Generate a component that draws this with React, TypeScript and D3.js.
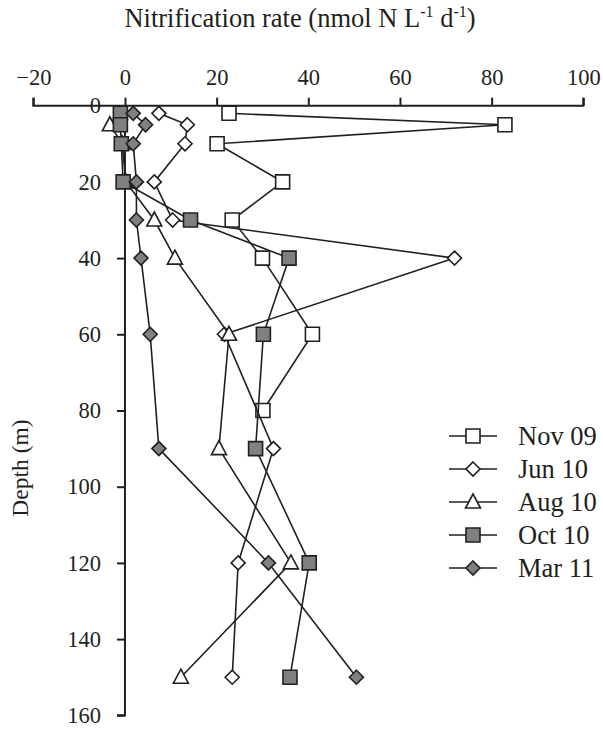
import { useEffect, useRef } from 'react';
import * as d3 from 'd3';

const seriesNames = ['Nov 09', 'Jun 10', 'Aug 10', 'Oct 10', 'Mar 11'];

const nov09Depth = [2, 5, 10, 20, 30, 40, 60, 80];
const nov09Rate = [22.7, 82.9, 20.1, 34.4, 23.4, 30.0, 40.9, 30.1];

const jun10Depth = [2, 5, 10, 20, 30, 40, 60, 90, 120, 150];
const jun10Rate = [7.4, 13.6, 13.1, 6.4, 10.4, 71.9, 21.7, 32.4, 24.7, 23.4];

const aug10Depth = [5, 10, 20, 30, 40, 60, 90, 120, 150];
const aug10Rate = [-3.3, -0.6, 0.2, 6.4, 10.9, 22.7, 20.5, 36.2, 12.2];

const oct10Depth = [2, 5, 10, 20, 30, 40, 60, 90, 120, 150];
const oct10Rate = [-1.0, -1.0, -0.8, -0.4, 14.3, 35.8, 30.2, 28.5, 40.2, 36.0];

const mar11Depth = [2, 5, 10, 20, 30, 40, 60, 90, 120, 150];
const mar11Rate = [1.8, 4.5, 1.8, 2.5, 2.5, 3.5, 5.5, 7.4, 31.3, 50.5];

const xTicks = [-20, 0, 20, 40, 60, 80, 100];
const yTicks = [0, 20, 40, 60, 80, 100, 120, 140, 160];

type Marker = 'square' | 'diamond' | 'triangle';
const markers: Marker[] = ['square', 'diamond', 'triangle', 'square', 'diamond'];
const fills = ['#ffffff', '#ffffff', '#ffffff', '#808080', '#808080'];

const INK = '#231f20';
const FONT = '"Liberation Serif", "Times New Roman", serif';

function markerPath(m: Marker) {
  if (m === 'square') return 'M-7,-7H7V7H-7Z';
  if (m === 'diamond') return 'M0,-7L7,0L0,7L-7,0Z';
  return 'M0,-8L7.5,6H-7.5Z';
}

export default function App() {
  const svgRef = useRef<SVGSVGElement>(null);

  useEffect(() => {
    if (!svgRef.current) return;
    const width = 603, height = 729;
    const svg = d3.select(svgRef.current);
    svg.selectAll('*').remove();
    svg.attr('width', width).attr('height', height);

    const x = d3.scaleLinear().domain([-20, 100]).range([33.3, 583.3]);
    const y = d3.scaleLinear().domain([0, 160]).range([105.7, 715.3]);

    const series = [
      { d: nov09Depth, v: nov09Rate },
      { d: jun10Depth, v: jun10Rate },
      { d: aug10Depth, v: aug10Rate },
      { d: oct10Depth, v: oct10Rate },
      { d: mar11Depth, v: mar11Rate },
    ].map((s, i) => ({
      name: seriesNames[i],
      marker: markers[i],
      fill: fills[i],
      pts: s.d.map((dd, j) => ({ d: dd, v: s.v[j] })),
    }));

    // title
    const title = svg.append('text').attr('x', 300).attr('y', 27)
      .attr('text-anchor', 'middle').attr('font-family', FONT).attr('font-size', 26.5).attr('fill', INK);
    title.append('tspan').text('Nitrification rate (nmol N L');
    title.append('tspan').attr('font-size', 16).attr('dy', -10).text('-1');
    title.append('tspan').attr('dy', 10).text(' d');
    title.append('tspan').attr('font-size', 16).attr('dy', -10).text('-1');
    title.append('tspan').attr('dy', 10).text(')');

    // x axis (top)
    const xa = svg.append('g').attr('transform', `translate(0,${y(0)})`)
      .call(d3.axisTop(x).tickValues(xTicks).tickSize(8).tickPadding(13).tickFormat(d3.format('d')));
    xa.select('.domain').attr('stroke', INK).attr('stroke-width', 2).attr('d', `M${x(-20)},-8V0H${x(100)}V-8`);
    xa.selectAll('.tick line').attr('stroke', INK).attr('stroke-width', 2);
    xa.selectAll('text').attr('fill', INK).attr('font-family', FONT).attr('font-size', 22.5);

    // y axis
    const ya = svg.append('g').attr('transform', `translate(${x(0)},0)`)
      .call(d3.axisLeft(y).tickValues(yTicks).tickSize(8).tickPadding(16).tickFormat(d3.format('d')));
    ya.select('.domain').attr('stroke', INK).attr('stroke-width', 2).attr('d', `M0,${y(0)}V${y(160)}H-8`);
    ya.selectAll('.tick line').attr('stroke', INK).attr('stroke-width', 2);
    ya.selectAll('text').attr('fill', INK).attr('font-family', FONT).attr('font-size', 22.5);

    svg.append('text').attr('transform', 'rotate(-90)').attr('x', -468).attr('y', 28)
      .attr('text-anchor', 'middle').attr('font-family', FONT).attr('font-size', 23.5).attr('fill', INK)
      .text('Depth (m)');

    const line = d3.line<{ d: number; v: number }>().x(p => x(p.v)).y(p => y(p.d));

    series.forEach(s => {
      svg.append('path').datum(s.pts).attr('fill', 'none').attr('stroke', INK)
        .attr('stroke-width', 1.6).attr('d', line);
      svg.append('g').selectAll('path').data(s.pts).join('path')
        .attr('transform', p => `translate(${x(p.v)},${y(p.d)})`)
        .attr('d', markerPath(s.marker))
        .attr('fill', s.fill).attr('stroke', INK).attr('stroke-width', 1.6);
    });

    // legend
    const legendY = d3.scalePoint<string>().domain(seriesNames).range([436, 568]);
    const lg = svg.append('g');
    series.forEach(s => {
      const ly = legendY(s.name)!;
      lg.append('line').attr('x1', 449).attr('x2', 497).attr('y1', ly).attr('y2', ly)
        .attr('stroke', INK).attr('stroke-width', 1.6);
      lg.append('path').attr('transform', `translate(473,${ly})`).attr('d', markerPath(s.marker))
        .attr('fill', s.fill).attr('stroke', INK).attr('stroke-width', 1.6);
      lg.append('text').attr('x', 518).attr('y', ly + 9).attr('font-family', FONT)
        .attr('font-size', 26.5).attr('fill', INK).text(s.name);
    });
  }, []);

  return <svg ref={svgRef} style={{ position: 'absolute', left: 0, top: 0 }} />;
}
